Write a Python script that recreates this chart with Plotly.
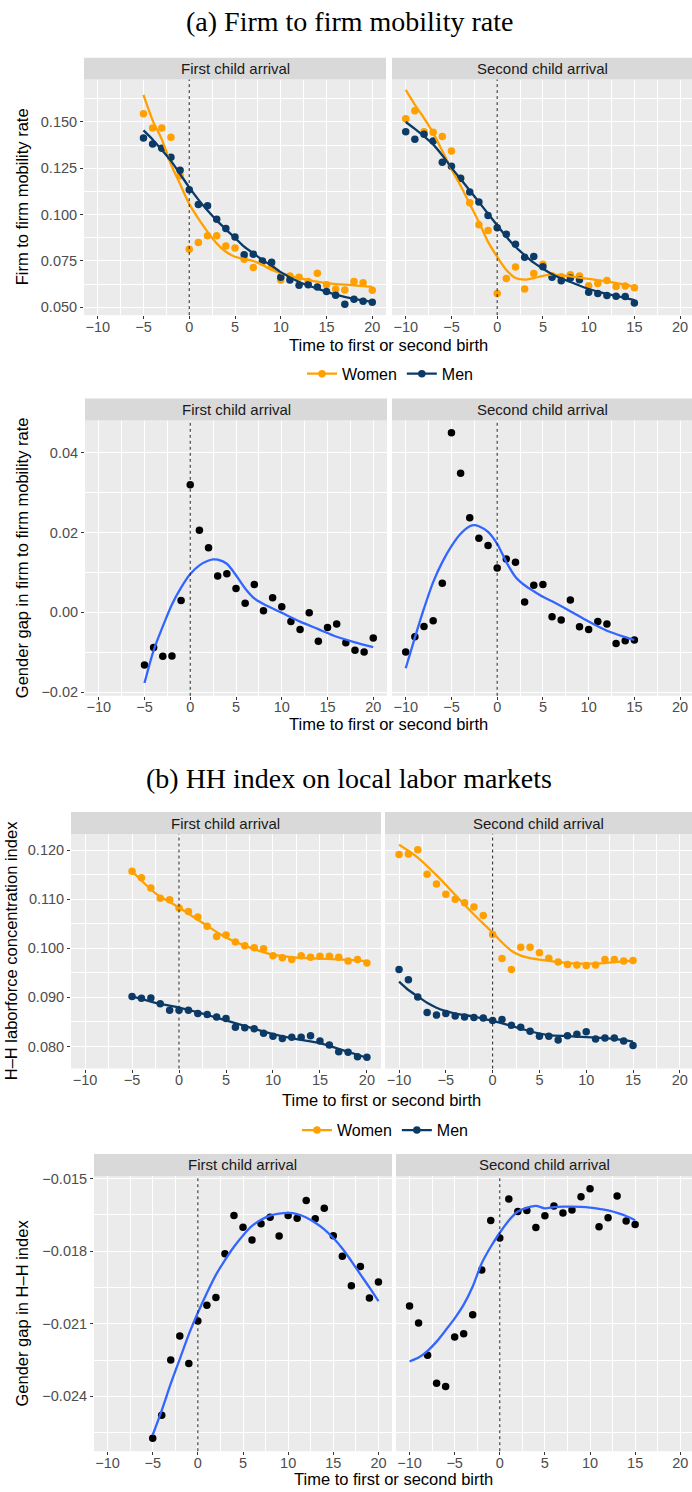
import plotly.graph_objects as go

W, H = 692, 1492

# ---------------- data ----------------
t_first = list(range(-5, 21))
t_second = list(range(-10, 16))

x_tickvals = [-10, -5, 0, 5, 10, 15, 20]
x_ticktext = ["\u221210", "\u22125", "0", "5", "10", "15", "20"]

# (a) firm-to-firm mobility rate
mob_women_first = [0.1545, 0.1468, 0.1468, 0.1418, 0.1210, 0.0813, 0.0850, 0.0886, 0.0886, 0.0831,
                   0.0820, 0.0760, 0.0715, 0.0745, 0.0720, 0.0647, 0.0669, 0.0663, 0.0640, 0.0684,
                   0.0622, 0.0597, 0.0594, 0.0640, 0.0633, 0.0592]
mob_men_first = [0.1413, 0.1381, 0.1358, 0.1310, 0.1240, 0.1135, 0.1055, 0.1048, 0.0975, 0.0925,
                 0.0879, 0.0784, 0.0786, 0.0750, 0.0743, 0.0662, 0.0647, 0.0619, 0.0622, 0.0610,
                 0.0585, 0.0565, 0.0516, 0.0544, 0.0533, 0.0528]
mob_women_second = [0.1518, 0.1561, 0.1447, 0.1445, 0.1422, 0.1343, 0.1195, 0.1064, 0.0946, 0.0914,
                    0.0574, 0.0655, 0.0717, 0.0599, 0.0683, 0.0733, 0.0670, 0.0665, 0.0676, 0.0669,
                    0.0616, 0.0628, 0.0645, 0.0613, 0.0615, 0.0606]
mob_men_second = [0.1447, 0.1407, 0.1434, 0.1397, 0.1283, 0.1261, 0.1197, 0.1122, 0.1069, 0.0996,
                  0.0930, 0.0895, 0.0841, 0.0770, 0.0774, 0.0719, 0.0662, 0.0644, 0.0658, 0.0649,
                  0.0581, 0.0574, 0.0564, 0.0560, 0.0558, 0.0523]

# smoothed curves
fit_mob_women_first_x = [-5, -4, -3, -2, -1, 0, 1, 2, 3, 4, 5, 6, 7, 8, 9, 10, 12, 15, 18, 20]
fit_mob_women_first_y = [0.1646, 0.1509, 0.1406, 0.1272, 0.1165, 0.1058, 0.0978, 0.0907, 0.0845, 0.0800,
                         0.0773, 0.0761, 0.0750, 0.0729, 0.0702, 0.0685, 0.0658, 0.0631, 0.0619, 0.0610]
fit_mob_men_first_x = [-5, -4, -3, -2, -1, 0, 1, 2, 3, 4, 5, 6, 7, 8, 9, 10, 12, 14, 16, 18, 20]
fit_mob_men_first_y = [0.1455, 0.1406, 0.1349, 0.1290, 0.1219, 0.1147, 0.1081, 0.1022, 0.0969, 0.0921,
                       0.0875, 0.0827, 0.0791, 0.0756, 0.0724, 0.0690, 0.0637, 0.0601, 0.0569, 0.0546, 0.0530]
fit_mob_women_second_x = [-10, -9, -8, -7, -6, -5, -4, -3, -2, -1, 0, 1, 2, 3, 4, 5, 6, 7, 8, 10, 12, 14, 15]
fit_mob_women_second_y = [0.1673, 0.1593, 0.1521, 0.1441, 0.1343, 0.1245, 0.1156, 0.1058, 0.0960, 0.0853,
                          0.0773, 0.0702, 0.0658, 0.0650, 0.0658, 0.0670, 0.0676, 0.0672, 0.0667, 0.0653,
                          0.0640, 0.0622, 0.0610]
fit_mob_men_second_x = [-10, -9, -8, -7, -6, -5, -4, -3, -2, -1, 0, 1, 2, 3, 4, 5, 6, 8, 10, 12, 14, 15]
fit_mob_men_second_y = [0.1500, 0.1463, 0.1423, 0.1379, 0.1320, 0.1254, 0.1192, 0.1130, 0.1068, 0.1005,
                        0.0943, 0.0881, 0.0827, 0.0782, 0.0741, 0.0708, 0.0679, 0.0637, 0.0599, 0.0572,
                        0.0551, 0.0539]

# gender gap in mobility
gap_mob_first = [-0.0132, -0.0088, -0.0110, -0.0109, 0.0030, 0.0320, 0.0206, 0.0162, 0.0091, 0.0097,
                 0.0060, 0.0023, 0.0070, 0.0004, 0.0037, 0.0014, -0.0023, -0.0043, -0.0001, -0.0072,
                 -0.0038, -0.0029, -0.0076, -0.0095, -0.0099, -0.0064]
gap_mob_second = [-0.0099, -0.0061, -0.0035, -0.0021, 0.0073, 0.0450, 0.0349, 0.0237, 0.0186, 0.0168,
                  0.0111, 0.0134, 0.0126, 0.0026, 0.0068, 0.0070, -0.0011, -0.0019, 0.0031, -0.0036,
                  -0.0043, -0.0023, -0.0029, -0.0078, -0.0071, -0.0069]
fit_gap_mob_first_x = [-5, -4, -3, -2, -1, 0, 1, 2, 2.5, 3, 4, 5, 6, 7, 8, 10, 12, 14, 16, 18, 20]
fit_gap_mob_first_y = [-0.0177, -0.0095, -0.0035, 0.0020, 0.0062, 0.0096, 0.0118, 0.0130, 0.0133, 0.0132,
                       0.0122, 0.0093, 0.0060, 0.0035, 0.0021, -0.0001, -0.0023, -0.0042, -0.0061,
                       -0.0075, -0.0087]
fit_gap_mob_second_x = [-10, -9, -8, -7, -6, -5, -4, -3, -2.5, -2, -1, 0, 1, 2, 3, 4, 5, 6, 8, 10, 12, 14, 15]
fit_gap_mob_second_y = [-0.0140, -0.0063, 0.0010, 0.0076, 0.0126, 0.0166, 0.0197, 0.0216, 0.0219, 0.0216,
                        0.0202, 0.0172, 0.0126, 0.0089, 0.0068, 0.0053, 0.0039, 0.0028, 0.0003, -0.0023,
                        -0.0046, -0.0062, -0.0069]

# (b) HH index
hh_women_first = [0.1157, 0.1144, 0.1123, 0.1102, 0.1099, 0.1082, 0.1075, 0.1064, 0.1045, 0.1024,
                  0.1027, 0.1013, 0.1005, 0.1001, 0.0999, 0.0985, 0.0981, 0.0977, 0.0985, 0.0982,
                  0.0984, 0.0984, 0.0982, 0.0974, 0.0977, 0.0970]
hh_men_first = [0.0902, 0.0898, 0.0899, 0.0887, 0.0874, 0.0874, 0.0874, 0.0867, 0.0865, 0.0860,
                0.0857, 0.0839, 0.0838, 0.0836, 0.0827, 0.0821, 0.0816, 0.0819, 0.0819, 0.0822,
                0.0811, 0.0803, 0.0789, 0.0788, 0.0779, 0.0778]
hh_women_second = [0.1191, 0.1192, 0.1201, 0.1151, 0.1131, 0.1110, 0.1100, 0.1093, 0.1084, 0.1067,
                   0.1028, 0.0979, 0.0957, 0.1002, 0.1002, 0.0991, 0.0980, 0.0972, 0.0967, 0.0966,
                   0.0965, 0.0966, 0.0977, 0.0977, 0.0974, 0.0975]
hh_men_second = [0.0957, 0.0936, 0.0901, 0.0869, 0.0864, 0.0867, 0.0862, 0.0860, 0.0859, 0.0858,
                 0.0853, 0.0855, 0.0843, 0.0839, 0.0831, 0.0821, 0.0821, 0.0813, 0.0822, 0.0825,
                 0.0830, 0.0815, 0.0817, 0.0817, 0.0811, 0.0802]
fit_hh_women_first_x = [-5, -2.5, 0, 2.5, 5, 7.5, 10, 12.5, 15, 17.5, 20]
fit_hh_women_first_y = [0.1157, 0.1112, 0.1083, 0.1052, 0.1022, 0.1002, 0.0987, 0.0981, 0.0979, 0.0977, 0.0974]
fit_hh_men_first_x = [-5, -2.5, 0, 2.5, 5, 7.5, 10, 12.5, 15, 17.5, 20]
fit_hh_men_first_y = [0.0902, 0.0889, 0.0879, 0.0867, 0.0853, 0.0839, 0.0825, 0.0815, 0.0807, 0.0792, 0.0777]
fit_hh_women_second_x = [-10, -8, -6, -4, -2, 0, 1, 2, 3, 4, 5, 7, 9, 11, 13, 15]
fit_hh_women_second_y = [0.1211, 0.1185, 0.1149, 0.1109, 0.1069, 0.1032, 0.1012, 0.0995, 0.0985, 0.0980,
                         0.0977, 0.0972, 0.0969, 0.0969, 0.0972, 0.0975]
fit_hh_men_second_x = [-10, -9, -8, -7, -6, -5, -4, -2, 0, 2, 4, 6, 8, 10, 12, 14, 15]
fit_hh_men_second_y = [0.0932, 0.0915, 0.0902, 0.0889, 0.0879, 0.0872, 0.0867, 0.0861, 0.0852, 0.0842,
                       0.0831, 0.0823, 0.0821, 0.0819, 0.0817, 0.0813, 0.0810]

# gender gap in H-H index
gap_hh_first = [-0.02573, -0.02478, -0.02250, -0.02151, -0.02264, -0.02089, -0.02024, -0.01992, -0.01811,
                -0.01653, -0.01701, -0.01754, -0.01687, -0.01660, -0.01737, -0.01653, -0.01664, -0.01591,
                -0.01666, -0.01623, -0.01736, -0.01821, -0.01943, -0.01864, -0.01994, -0.01928]
gap_hh_second = [-0.02027, -0.02097, -0.02230, -0.02346, -0.02359, -0.02155, -0.02141, -0.02063, -0.01878,
                 -0.01673, -0.01746, -0.01585, -0.01636, -0.01632, -0.01702, -0.01654, -0.01613, -0.01642,
                 -0.01630, -0.01575, -0.01542, -0.01699, -0.01662, -0.01572, -0.01675, -0.01690]
fit_gap_hh_first_x = list(range(-5, 21))
fit_gap_hh_first_y = [-0.02560, -0.02458, -0.02348, -0.02246, -0.02144, -0.02055, -0.01973, -0.01898,
                      -0.01837, -0.01782, -0.01735, -0.01696, -0.01670, -0.01653, -0.01645, -0.01642,
                      -0.01647, -0.01661, -0.01683, -0.01710, -0.01746, -0.01789, -0.01841, -0.01896,
                      -0.01950, -0.02007]
fit_gap_hh_second_x = [-10, -9, -8, -7, -6, -5, -4, -3, -2, -1, 0, 1, 2, 3, 4, 5, 6, 7, 8, 9, 10, 11, 12, 13, 14, 15]
fit_gap_hh_second_y = [-0.02256, -0.02240, -0.02212, -0.02174, -0.02127, -0.02078, -0.02021, -0.01946,
                       -0.01850, -0.01782, -0.01724, -0.01673, -0.01636, -0.01621, -0.01613, -0.01623,
                       -0.01618, -0.01616, -0.01616, -0.01617, -0.01620, -0.01625, -0.01632, -0.01642,
                       -0.01655, -0.01672]

# y tick labels
y1_tickvals = [0.050, 0.075, 0.100, 0.125, 0.150]
y1_ticktext = ["0.050", "0.075", "0.100", "0.125", "0.150"]
y2_tickvals = [-0.02, 0.00, 0.02, 0.04]
y2_ticktext = ["\u22120.02", "0.00", "0.02", "0.04"]
y3_tickvals = [0.08, 0.09, 0.10, 0.11, 0.12]
y3_ticktext = ["0.080", "0.090", "0.100", "0.110", "0.120"]
y4_tickvals = [-0.024, -0.021, -0.018, -0.015]
y4_ticktext = ["\u22120.024", "\u22120.021", "\u22120.018", "\u22120.015"]

facet_labels = ["First child arrival", "Second child arrival"]

# ---------------- styling ----------------
ORANGE = "#FFA000"
NAVY = "#0B3A66"
BLUE = "#3366FF"
FONT = "Liberation Sans, Arial, sans-serif"
SERIF = "Liberation Serif, Times New Roman, serif"

# pixel layout (left, right) per subplot, (top, bottom) per row
XD = {1: (84, 386), 2: (392, 692), 3: (85, 387), 4: (392, 692),
      5: (71, 381), 6: (385, 692), 7: (94, 392), 8: (396, 692)}
ROWS = [(75, 312), (418, 695), (834, 1070), (1178, 1455)]
STRIP_H = 22
YRANGES = [[0.0458, 0.1729], [-0.0209, 0.0481], [0.0755, 0.1233], [-0.02627, -0.01489]]
YTICKS = [(y1_tickvals, y1_ticktext, 0.0125, 0.0625),
          (y2_tickvals, y2_ticktext, 0.02, -0.01),
          (y3_tickvals, y3_ticktext, 0.01, 0.085),
          (y4_tickvals, y4_ticktext, 0.003, -0.0255)]

fig = go.Figure()


def add_pts(k, x, y, color, size=7.5):
    fig.add_trace(go.Scatter(x=x, y=y, mode="markers", xaxis=f"x{k}", yaxis=f"y{k}",
                             marker=dict(color=color, size=size, line=dict(width=0)),
                             showlegend=False, hoverinfo="skip"))


def add_line(k, x, y, color):
    fig.add_trace(go.Scatter(x=x, y=y, mode="lines", xaxis=f"x{k}", yaxis=f"y{k}",
                             line=dict(color=color, width=2.3, shape="spline", smoothing=0.8),
                             showlegend=False, hoverinfo="skip"))


# Row 1
add_pts(1, t_first, mob_women_first, ORANGE)
add_pts(1, t_first, mob_men_first, NAVY)
add_line(1, fit_mob_women_first_x, fit_mob_women_first_y, ORANGE)
add_line(1, fit_mob_men_first_x, fit_mob_men_first_y, NAVY)
add_pts(2, t_second, mob_women_second, ORANGE)
add_pts(2, t_second, mob_men_second, NAVY)
add_line(2, fit_mob_women_second_x, fit_mob_women_second_y, ORANGE)
add_line(2, fit_mob_men_second_x, fit_mob_men_second_y, NAVY)
# Row 2
add_pts(3, t_first, gap_mob_first, "black")
add_line(3, fit_gap_mob_first_x, fit_gap_mob_first_y, BLUE)
add_pts(4, t_second, gap_mob_second, "black")
add_line(4, fit_gap_mob_second_x, fit_gap_mob_second_y, BLUE)
# Row 3
add_pts(5, t_first, hh_women_first, ORANGE)
add_pts(5, t_first, hh_men_first, NAVY)
add_line(5, fit_hh_women_first_x, fit_hh_women_first_y, ORANGE)
add_line(5, fit_hh_men_first_x, fit_hh_men_first_y, NAVY)
add_pts(6, t_second, hh_women_second, ORANGE)
add_pts(6, t_second, hh_men_second, NAVY)
add_line(6, fit_hh_women_second_x, fit_hh_women_second_y, ORANGE)
add_line(6, fit_hh_men_second_x, fit_hh_men_second_y, NAVY)
# Row 4
add_pts(7, t_first, gap_hh_first, "black")
add_line(7, fit_gap_hh_first_x, fit_gap_hh_first_y, BLUE)
add_pts(8, t_second, gap_hh_second, "black")
add_line(8, fit_gap_hh_second_x, fit_gap_hh_second_y, BLUE)

# legend entries
for lg, k in (("legend", 1), ("legend2", 5)):
    for name, col in (("Women", ORANGE), ("Men", NAVY)):
        fig.add_trace(go.Scatter(x=[None], y=[None], mode="lines+markers", name=name,
                                 xaxis=f"x{k}", yaxis=f"y{k}", legend=lg,
                                 line=dict(color=col, width=2.3), marker=dict(color=col, size=7.5),
                                 showlegend=True))

layout = dict(width=W, height=H, margin=dict(l=0, r=0, t=0, b=0),
              paper_bgcolor="white", plot_bgcolor="#EBEBEB",
              font=dict(family=FONT, color="#1a1a1a"), hovermode=False)

shapes = []
annotations = []

for k in range(1, 9):
    row = (k - 1) // 2
    second = (k % 2 == 0)
    x0, x1 = XD[k]
    top, bot = ROWS[row]
    tv, tt, mdt, mt0 = YTICKS[row]
    layout[f"xaxis{k}"] = dict(
        domain=[x0 / W, x1 / W], anchor=f"y{k}",
        range=[-11.5, 21.3 if second else 21.5],
        tickmode="array", tickvals=x_tickvals, ticktext=x_ticktext,
        showgrid=True, gridcolor="white", gridwidth=1.1, zeroline=False,
        ticks="outside", ticklen=3, tickwidth=1, tickcolor="#333333",
        ticklabelstandoff=-5,
        tickfont=dict(size=14.5, color="#4D4D4D", family=FONT),
        showline=False,
        minor=dict(tickmode="linear", tick0=-7.5, dtick=5, showgrid=True,
                   gridcolor="white", gridwidth=0.55, ticks=""),
    )
    ya = dict(
        domain=[1 - bot / H, 1 - top / H], anchor=f"x{k}",
        range=YRANGES[row],
        tickmode="array", tickvals=tv, ticktext=tt,
        showgrid=True, gridcolor="white", gridwidth=1.1, zeroline=False,
        tickfont=dict(size=14.5, color="#4D4D4D", family=FONT),
        showline=False,
        minor=dict(tickmode="linear", tick0=mt0, dtick=mdt, showgrid=True,
                   gridcolor="white", gridwidth=0.55, ticks=""),
    )
    if second:
        ya.update(showticklabels=False, ticks="")
    else:
        ya.update(ticks="outside", ticklen=3, tickwidth=1, tickcolor="#333333")
    layout[f"yaxis{k}"] = ya

    # strip
    shapes.append(dict(type="rect", xref="paper", yref="paper",
                       x0=x0 / W, x1=x1 / W, y0=1 - top / H, y1=1 - (top - STRIP_H) / H,
                       fillcolor="#D9D9D9", line=dict(width=0), layer="above"))
    annotations.append(dict(text=facet_labels[1 if second else 0], xref="paper", yref="paper",
                            x=(x0 + x1) / 2 / W, y=1 - (top - STRIP_H / 2) / H,
                            xanchor="center", yanchor="middle", showarrow=False,
                            font=dict(size=15, color="#1A1A1A", family=FONT)))
    # dotted vertical line at birth
    xr = "x" if k == 1 else f"x{k}"
    yr = "y domain" if k == 1 else f"y{k} domain"
    shapes.append(dict(type="line", xref=xr, yref=yr, x0=0, x1=0, y0=0, y1=1,
                       line=dict(color="#222222", width=1, dash="dot"), layer="above"))

# x-axis titles
for ypx, xc in ((342, 388), (723, 388), (1102, 381), (1483, 393)):
    annotations.append(dict(text="Time to first or second birth", xref="paper", yref="paper",
                            x=xc / W, y=1 - ypx / H, xanchor="center", yanchor="middle",
                            showarrow=False, font=dict(size=16.5, color="black", family=FONT)))

# y-axis titles
for txt, xpx, row in (("Firm to firm mobility rate", 22, 0),
                      ("Gender gap in firm to firm mobility rate", 22, 1),
                      ("H\u2013H laborforce concentration index", 11, 2),
                      ("Gender gap in H\u2013H index", 22, 3)):
    top, bot = ROWS[row]
    annotations.append(dict(text=txt, xref="paper", yref="paper", textangle=-90,
                            x=xpx / W, y=1 - (top + bot) / 2 / H, xanchor="center", yanchor="middle",
                            showarrow=False, font=dict(size=16.5, color="black", family=FONT)))

# section titles
for txt, ypx in (("(a) Firm to firm mobility rate", 17), ("(b) HH index on local labor markets", 778)):
    annotations.append(dict(text=txt, xref="paper", yref="paper", x=0.5 + 3 / W, y=1 - ypx / H,
                            xanchor="center", yanchor="middle", showarrow=False,
                            font=dict(size=28, color="black", family=SERIF)))

layout["shapes"] = shapes
layout["annotations"] = annotations
layout["legend"] = dict(orientation="h", x=390 / W, xanchor="center", y=1 - 371 / H, yanchor="middle",
                        font=dict(size=16, color="black", family=FONT), bgcolor="rgba(0,0,0,0)",
                        itemwidth=30, tracegroupgap=0)
layout["legend2"] = dict(orientation="h", x=385 / W, xanchor="center", y=1 - 1132 / H, yanchor="middle",
                         font=dict(size=16, color="black", family=FONT), bgcolor="rgba(0,0,0,0)",
                         itemwidth=30, tracegroupgap=0)

fig.update_layout(**layout)
fig.write_html("out.html")
